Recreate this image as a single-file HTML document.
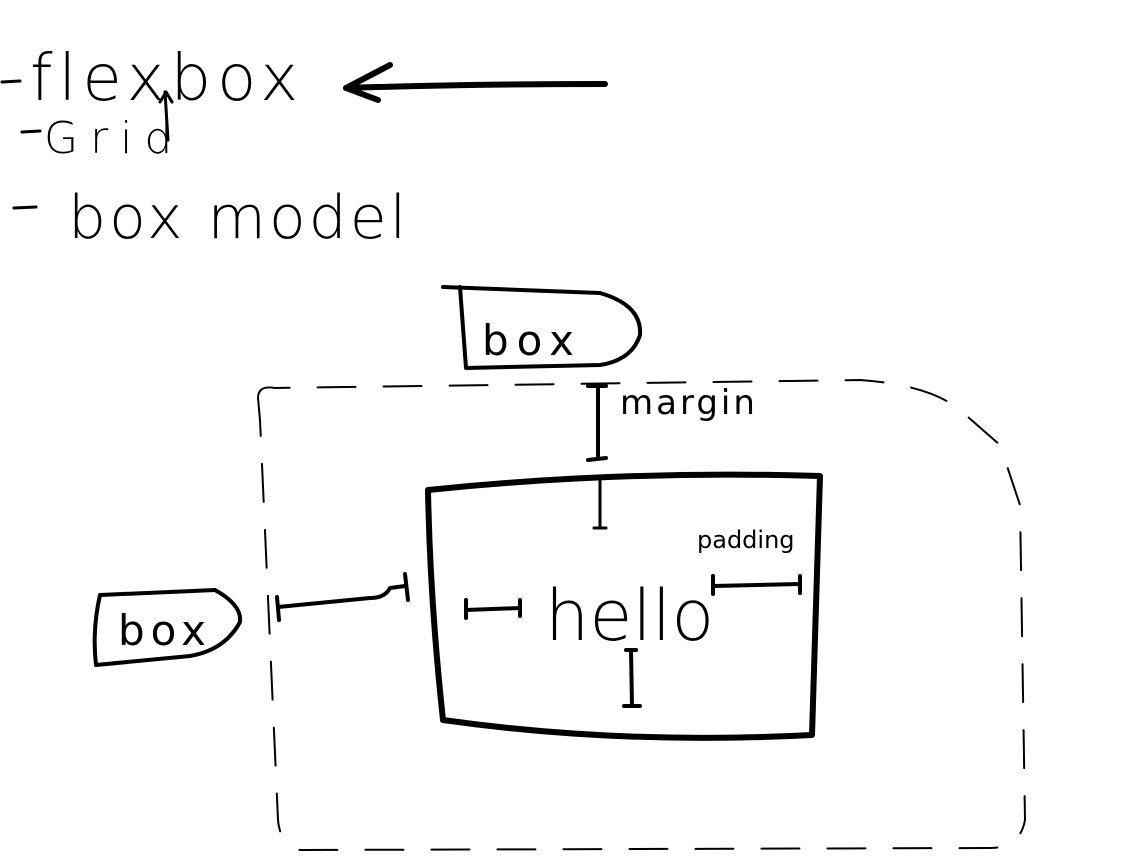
<!DOCTYPE html>
<html><head><meta charset="utf-8"><style>
html,body{margin:0;padding:0;background:#fff;}
svg{display:block}
text{font-family:"DejaVu Sans","Liberation Sans",sans-serif;fill:#000;}
</style></head><body>
<svg width="1142" height="857" viewBox="0 0 1142 857" xmlns="http://www.w3.org/2000/svg">
<g fill="none" stroke="#000" stroke-linecap="round" stroke-linejoin="round">
<path d="M2 82 L20 81" stroke-width="3"/>
<path d="M22 132 L40 131" stroke-width="3"/>
<path d="M14 208 L36 207" stroke-width="3"/>
<path d="M346 88 Q470 84 605 84" stroke-width="6"/>
<path d="M390 65 L346 88 L378 100" stroke-width="6"/>
<path d="M165 92 L168 140 M160 102 L166 92 L172 102" stroke-width="3"/>
<path d="M443 287 L600 293 Q642 305 640 335 Q632 360 600 365 L466 368 L460 287" stroke-width="4"/>
<path d="M258 398 Q258 385 275 388 L860 380 Q930 385 960 410 L1000 445 L1020 505 L1025 820 Q1020 848 990 848 L300 850 Q280 845 278 820 L260 420 Z" stroke-width="2" stroke-dasharray="38 28"/>
<path d="M588 386 L606 386 M598 386 L598 458 M588 460 L606 458" stroke-width="4"/>
<path d="M428 490 Q620 470 820 476 L812 735 Q620 745 443 720 Q430 600 428 490 Z" stroke-width="6"/>
<path d="M600 480 L600 528 M594 528 L606 528" stroke-width="3"/>
<path d="M626 650 L636 650 M631 650 L632 706 M624 706 L640 706" stroke-width="4"/>
<path d="M466 600 L466 618 M466 610 L520 608 M520 600 L520 616" stroke-width="4"/>
<path d="M713 576 L713 594 M713 586 L800 584 M800 576 L800 593" stroke-width="4"/>
<path d="M100 595 L215 590 Q242 605 240 622 Q225 650 190 656 L96 665 Q92 630 100 595" stroke-width="4"/>
<path d="M277 597 L279 620 M278 607 L370 598 Q385 598 390 588 L405 586 M405 574 L408 600" stroke-width="4"/>
</g>
<text x="30" y="100" font-size="64" font-weight="300" letter-spacing="6">flexbox</text>
<text x="44" y="153" font-size="44" font-weight="300" letter-spacing="12">Grid</text>
<text x="68" y="238" font-size="60" font-weight="300" letter-spacing="3">box model</text>
<text x="482" y="355" font-size="42" letter-spacing="8">box</text>
<text x="620" y="414" font-size="34" letter-spacing="3">margin</text>
<text x="697" y="548" font-size="24">padding</text>
<text x="545" y="640" font-size="70" font-weight="300">hello</text>
<text x="118" y="645" font-size="42" letter-spacing="6">box</text>
</svg>
</body></html>
